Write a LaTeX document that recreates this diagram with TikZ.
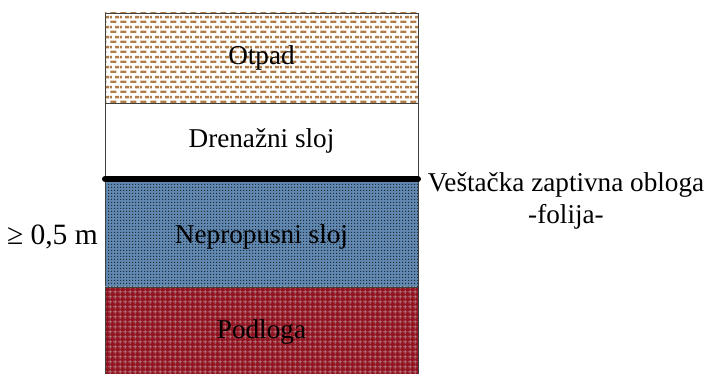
\documentclass[tikz,border=0pt]{standalone}
\usepackage{fontspec}
\setmainfont{Liberation Serif}
\usetikzlibrary{patterns.meta}

% staggered short dashes for the waste layer
\tikzdeclarepattern{
  name=wastedash,
  type=uncolored,
  bounding box={(0pt,0pt) and (10pt,10pt)},
  tile size={(10pt,10pt)},
  code={
    \draw[line width=2.6pt] (0.5pt,2.5pt) -- (7pt,2.5pt);
    \draw[line width=2.6pt] (5.5pt,7.5pt) -- (10pt,7.5pt);
    \draw[line width=2.6pt] (0pt,7.5pt) -- (2pt,7.5pt);
  }
}
% fine checker dots for the impermeable layer
\tikzdeclarepattern{
  name=clayfine,
  type=uncolored,
  bounding box={(0pt,0pt) and (3pt,3pt)},
  tile size={(3pt,3pt)},
  code={
    \fill (0pt,0pt) rectangle (1.5pt,1.5pt);
  }
}
% light grid for the subsoil
\tikzdeclarepattern{
  name=soilgrid,
  type=uncolored,
  bounding box={(0pt,0pt) and (4.5pt,4.5pt)},
  tile size={(4.5pt,4.5pt)},
  code={
    \draw[line width=0.6pt] (0pt,2.25pt) -- (4.5pt,2.25pt);
    \draw[line width=0.6pt] (2.25pt,0pt) -- (2.25pt,4.5pt);
  }
}

\definecolor{wastebrown}{HTML}{B07C48}
\definecolor{claybase}{HTML}{6088B0}
\definecolor{claydot}{HTML}{1E2A36}
\definecolor{soilred}{HTML}{921420}
\definecolor{soilline}{HTML}{CDBCC4}
\definecolor{edge}{HTML}{404040}

\tikzset{
  layer/.style={draw=edge, line width=0.9pt, minimum width=313pt,
    inner sep=0pt, outer sep=0pt, font=\fontsize{27.2}{31.5}\selectfont},
  lbl/.style={inner sep=0pt, font=\fontsize{27.2}{31.5}\selectfont, align=center},
  foil/.style={line width=6pt, line cap=round, black}
}

\begin{document}
\begin{tikzpicture}[x=1pt, y=-1pt]
  \useasboundingbox (0,0) rectangle (710,374);

  % soil profile, top to bottom
  \node[layer, preaction={fill=white}, pattern={wastedash}, pattern color=wastebrown,
        minimum height=90pt] (otpad) at (261.5,58) {Otpad};
  \node[layer, fill=white, minimum height=76pt] (dren) at (261.5,141) {Drenažni sloj};
  \node[layer, preaction={fill=claybase}, pattern={clayfine}, pattern color=claydot,
        minimum height=108pt] (glina) at (261.5,233) {};
  \node[lbl] (glinatxt) at (261.5,237) {Nepropusni sloj};
  \node[layer, preaction={fill=soilred}, pattern={soilgrid}, pattern color=soilline,
        minimum height=90pt] (podloga) at (261.5,332) {Podloga};

  % geomembrane between drainage and clay layers
  \draw[foil] (dren.south west) -- (dren.south east);

  % annotations
  \node[lbl, anchor=east, font=\fontsize{29.5}{34}\selectfont] (debljina) at (98,237) {≥ 0,5 m};
  \node[lbl] (folija) at (566,201) {Veštačka zaptivna obloga\\-folija-};
\end{tikzpicture}
\end{document}
